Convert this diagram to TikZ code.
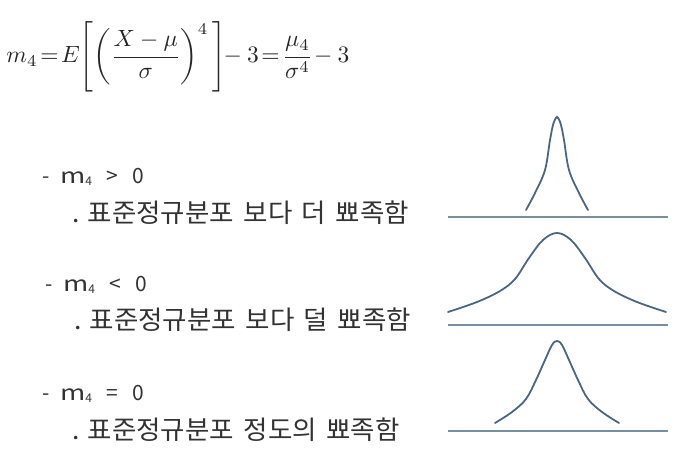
\documentclass[tikz,border=0pt]{standalone}
\usepackage{fontspec}
\setmainfont{Noto Sans CJK KR}[WordSpace=1.6]
\usepackage{amsmath}
\newcommand{\wm}{\scalebox{1.3}[1]{m}\kern-0.5pt\raisebox{-1.5pt}{\fontsize{12}{13}\selectfont 4}}
\begin{document}
\begin{tikzpicture}[x=1pt,y=-1pt,
  txt/.style={anchor=base west,inner sep=0pt,text=black!80},
  cond/.style={txt,font=\fontsize{21}{24}\selectfont},
  desc/.style={txt,font=\fontsize{26}{30}\selectfont},
  curve/.style={draw=curvecol,line width=1.8pt,line cap=round},
  axis/.style={draw=axiscol,line width=1.6pt}]
\definecolor{curvecol}{HTML}{4A6681}
\definecolor{axiscol}{HTML}{7A8EA3}
\useasboundingbox (0,0) rectangle (678,454);
% formula
\node[anchor=west,inner sep=0pt,scale=2.35,text=black!85] (formula) at (6,57)
  {$\displaystyle m_4\!=\!E\!\left[\left(\frac{X-\mu}{\sigma}\right)^{4}\,\right]\!\!-3\!=\!\frac{\mu_4}{\sigma^4}\!-3$};
% texts
\node[cond] (c1) at (42,184) {-\, \wm\,\, >\,\, 0};
\node[desc] (d1) at (72,223) {\scalebox{1.02}[1]{.\kern8pt 표준정규분포 보다 더 뾰족함}};
\node[cond] (c2) at (45,292) {-\, \wm\,\, <\,\, 0};
\node[desc] (d2) at (74,330) {\scalebox{1.02}[1]{.\kern8pt 표준정규분포 보다 덜 뾰족함}};
\node[cond] (c3) at (42,401) {-\, \wm\,\, =\,\, 0};
\node[desc] (d3) at (72,440) {\scalebox{1.02}[1]{.\kern8pt 표준정규분포 정도의 뾰족함}};
% axes
\draw[axis] (448,217) -- (668,217);
\draw[axis] (448,325) -- (668,325);
\draw[axis] (448,431) -- (668,431);
% curves
\begin{scope}[shift={(557,0)}]
\draw[curve] plot[smooth,tension=0.6] coordinates {(-31,210) (-22,193) (-12,170) (-7,140) (-4,125) (-1.5,118.5) (0,117) (1.5,118.5) (4,125) (7,140) (12,170) (22,193) (31,210)};
\draw[curve] plot[smooth,tension=0.6] coordinates {(-109,312) (-80,302) (-57,291) (-42,279) (-28,258) (-14,240) (0,233) (14,240) (28,258) (42,279) (57,291) (80,302) (109,312)};
\draw[curve] plot[smooth,tension=0.6] coordinates {(-62,423) (-45,412) (-31,399) (-21,380) (-12,360) (-5,345) (0,341) (5,345) (12,360) (21,380) (31,399) (45,412) (62,423)};
\end{scope}
\end{tikzpicture}
\end{document}
